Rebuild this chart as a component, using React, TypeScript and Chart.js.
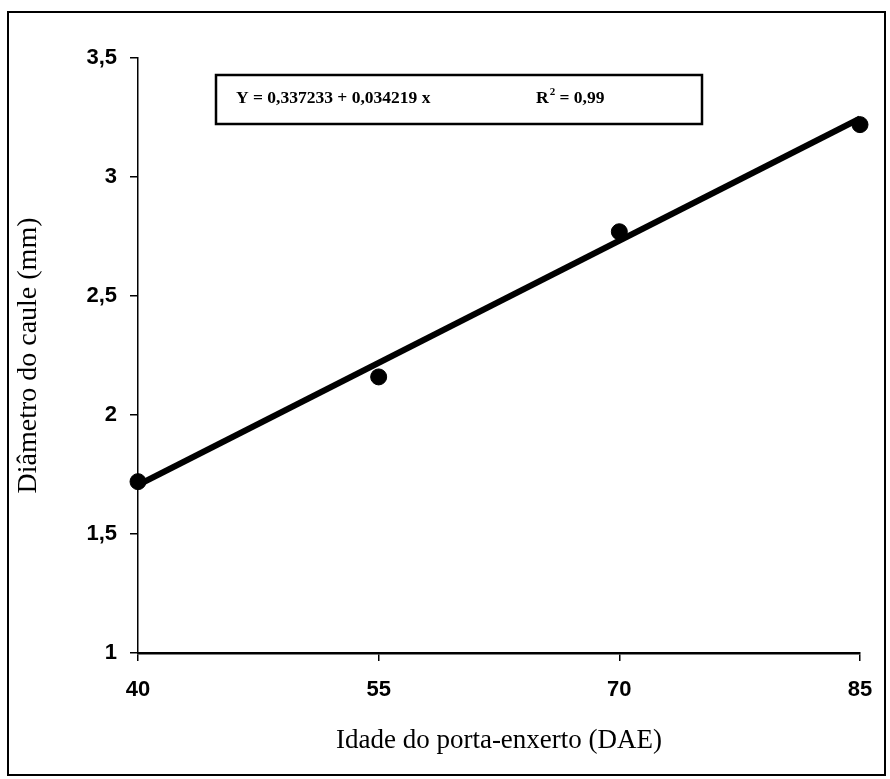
import React, { useEffect, useRef } from "react";
import { Chart, registerables } from "chart.js";

Chart.register(...registerables);

const ages = [40, 55, 70, 85];
const diameters = [1.72, 2.16, 2.77, 3.22];
const trendAges = [40, 85];
const trendValues = [1.706, 3.246];
const xTicks = [40, 55, 70, 85];
const equationText = "Y = 0,337233 + 0,034219 x";
const r2Text = "0,99";
const xTitle = "Idade do porta-enxerto (DAE)";
const yTitle = "Diâmetro do caule (mm)";

const W = 890;
const H = 779;

const overlay = {
  id: "overlay",
  afterDraw(chart: any) {
    const ctx = chart.ctx;
    const ca = chart.chartArea;
    ctx.save();
    // outer frame
    ctx.strokeStyle = "#000";
    ctx.lineWidth = 2;
    ctx.strokeRect(8, 12, 877, 763);
    // equation box
    const bx = ca.left + 78;
    const by = ca.top + 17;
    const bw = 486;
    const bh = 49;
    ctx.fillStyle = "#fff";
    ctx.fillRect(bx, by, bw, bh);
    ctx.lineWidth = 2.5;
    ctx.strokeRect(bx, by, bw, bh);
    ctx.fillStyle = "#000";
    ctx.textBaseline = "middle";
    ctx.textAlign = "left";
    const ty = by + bh / 2 - 1;
    ctx.font = 'bold 17.5px "Liberation Serif", serif';
    ctx.fillText(equationText, bx + 20, ty);
    let rx = bx + 320;
    ctx.fillText("R", rx, ty);
    rx += ctx.measureText("R").width;
    ctx.font = 'bold 11px "Liberation Serif", serif';
    ctx.fillText("2", rx + 1, ty - 6);
    rx += ctx.measureText("2").width + 1;
    ctx.font = 'bold 17.5px "Liberation Serif", serif';
    ctx.fillText(" = " + r2Text, rx, ty);
    ctx.restore();
  },
};

export default function App() {
  const ref = useRef<HTMLCanvasElement | null>(null);
  useEffect(() => {
    if (!ref.current) return;
    const chart = new Chart(ref.current, {
      type: "scatter",
      data: {
        datasets: [
          {
            label: "obs",
            data: ages.map((a, i) => ({ x: a, y: diameters[i] })),
            backgroundColor: "#000",
            borderColor: "#000",
            pointRadius: 8,
            pointHoverRadius: 8,
            clip: false as any,
            order: 0,
          },
          {
            label: "trend",
            data: trendAges.map((a, i) => ({ x: a, y: trendValues[i] })),
            showLine: true,
            borderColor: "#000",
            borderWidth: 6,
            pointRadius: 0,
            borderCapStyle: "butt",
            clip: false as any,
            order: 1,
          } as any,
        ],
      },
      options: {
        responsive: false,
        animation: false,
        events: [],
        layout: { padding: { top: 58, right: 30, bottom: 0, left: 0 } },
        plugins: { legend: { display: false }, tooltip: { enabled: false } },
        scales: {
          x: {
            type: "linear",
            min: 40,
            max: 85,
            afterBuildTicks: (s: any) => {
              s.ticks = xTicks.map((v) => ({ value: v }));
            },
            afterFit: (s: any) => {
              s.height = 126;
              s.paddingLeft = 0;
              s.paddingRight = 0;
            },
            ticks: {
              color: "#000",
              padding: 16,
              maxRotation: 0,
              font: { family: '"Liberation Sans", Arial, sans-serif', size: 22, weight: "bold" },
            },
            grid: {
              drawOnChartArea: false,
              drawTicks: true,
              tickLength: 8,
              tickColor: "#000",
              lineWidth: 1.5,
            },
            border: { display: true, color: "#000", width: 2.5 },
            title: {
              display: true,
              text: xTitle,
              color: "#000",
              padding: { top: 0, bottom: 22 },
              font: { family: '"Liberation Serif", "Times New Roman", serif', size: 27, weight: "normal" },
            },
          },
          y: {
            type: "linear",
            min: 1,
            max: 3.5,
            afterFit: (s: any) => {
              s.width = 138;
              s.paddingTop = 0;
              s.paddingBottom = 0;
            },
            ticks: {
              stepSize: 0.5,
              color: "#000",
              padding: 13,
              callback: (v: any) => String(v).replace(".", ","),
              font: { family: '"Liberation Sans", Arial, sans-serif', size: 22, weight: "bold" },
            },
            grid: {
              drawOnChartArea: false,
              drawTicks: true,
              tickLength: 8,
              tickColor: "#000",
              lineWidth: 1.5,
            },
            border: { display: true, color: "#000", width: 1.5 },
            title: {
              display: true,
              text: yTitle,
              color: "#000",
              padding: { top: 12, bottom: 0 },
              font: { family: '"Liberation Serif", "Times New Roman", serif', size: 28, weight: "normal" },
            },
          },
        },
      },
      plugins: [overlay],
    });
    return () => chart.destroy();
  }, []);
  return (
    <div style={{ position: "absolute", left: 0, top: 0, width: W, height: H, background: "#fff" }}>
      <canvas ref={ref} width={W} height={H} style={{ display: "block", width: W, height: H }} />
    </div>
  );
}
